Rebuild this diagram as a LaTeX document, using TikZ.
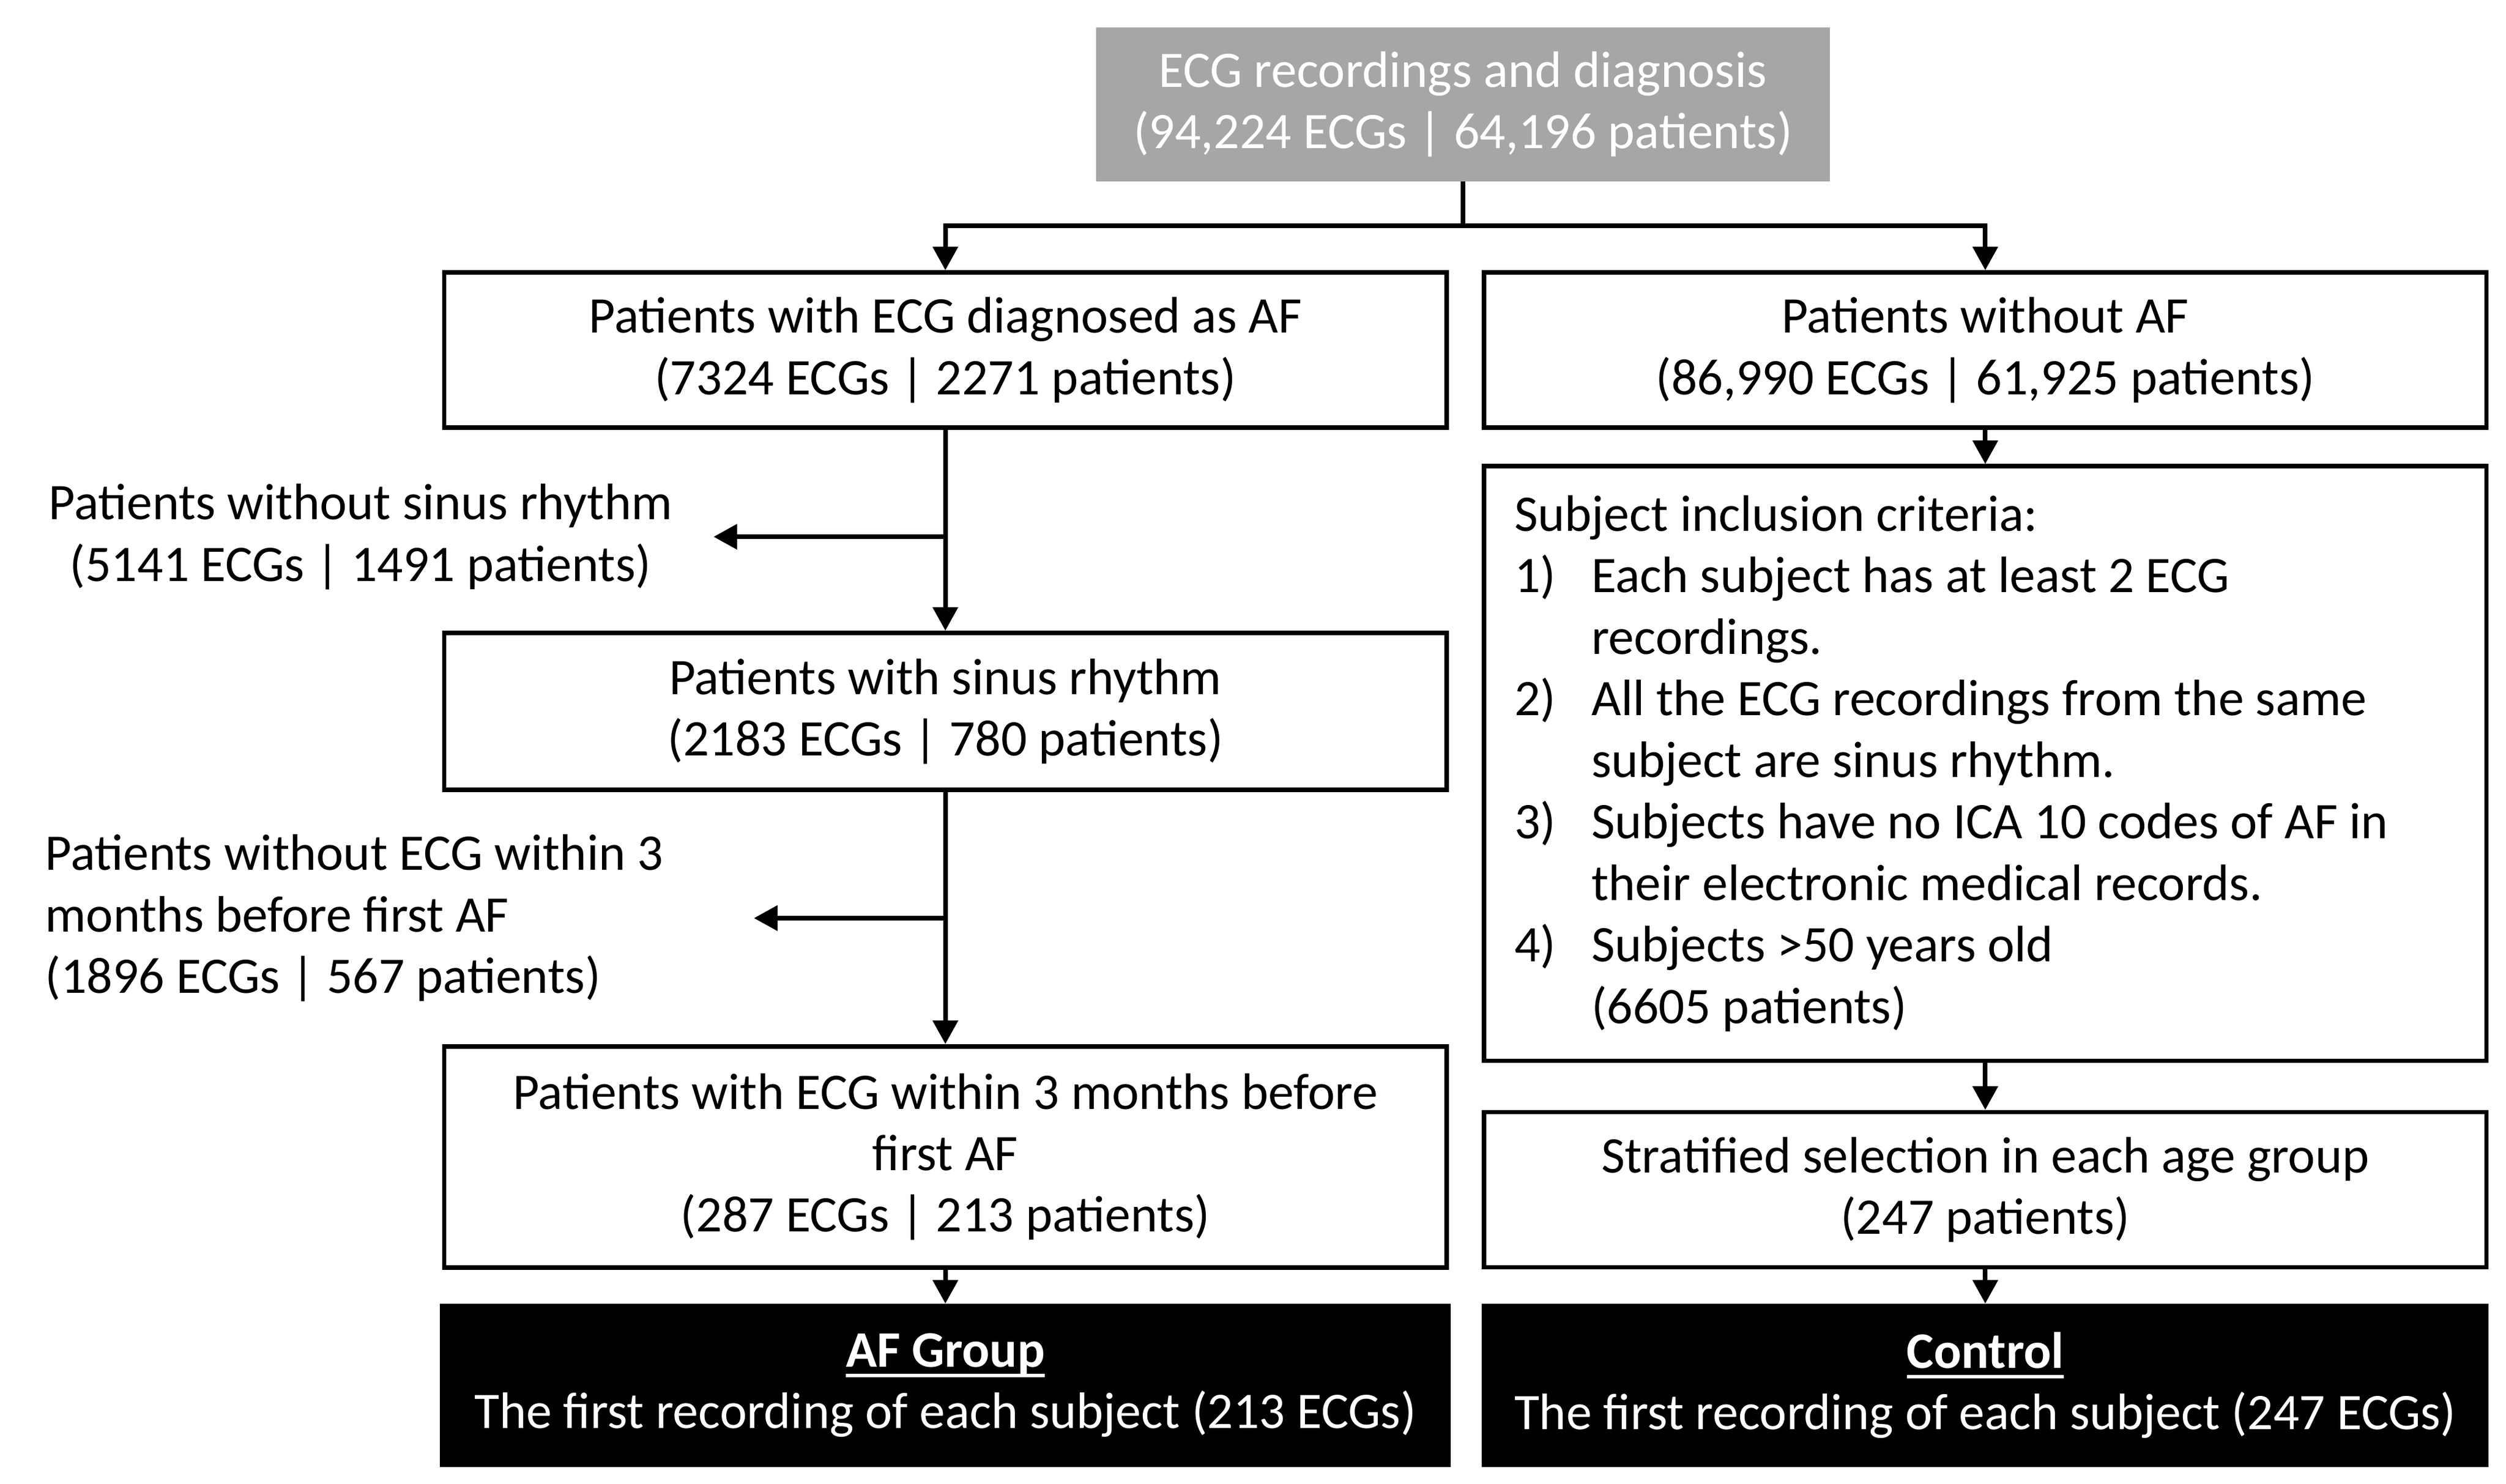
\documentclass[tikz,border=0pt]{standalone}
\usepackage{fontspec}
\setmainfont{Carlito}
\usetikzlibrary{arrows.meta}
\definecolor{topgray}{RGB}{166,166,166}
\newcommand\critem[1]{\makebox[1.32cm][l]{#1}}
\newcommand\crgap{\hspace*{1.32cm}}
\newcommand\grouptitle[1]{\setbox0\hbox{\textbf{#1}}\rlap{\rule[-5pt]{\wd0}{1.5pt}}\box0}

\begin{document}
\begin{tikzpicture}[x=0.02747cm,y=-0.02747cm,font=\fontsize{25}{30}\selectfont,
	box/.style={draw,line width=2.2pt,minimum width=17.18cm,minimum height=2.66cm,align=center,inner sep=0pt},
	arr/.style={line width=2.2pt,-{Triangle[length=11.5pt,width=12pt]}}]
			\useasboundingbox (0,0) rectangle (1564,926);

			\node (ecg) [fill=topgray,text=white,minimum width=12.58cm,minimum height=2.64cm,align=center] at (913,65) {ECG recordings and diagnosis\\(94,224 ECGs | 64,196 patients)};

			\node (afbox) [box] at (590,218.5) {Patients with ECG diagnosed as AF\\(7324 ECGs | 2271 patients)};
			\node (noaf) [box] at (1239,218.5) {Patients without AF\\(86,990 ECGs | 61,925 patients)};

			\node (sinus) [box,minimum height=2.69cm] at (590,444) {Patients with sinus rhythm\\(2183 ECGs | 780 patients)};
			\node (nosinus) [text width=12.09cm,align=flush center,inner sep=0pt] at (225,335) {Patients without sinus rhythm\\(5141 ECGs | 1491 patients)};

			\node (months) [box,minimum height=3.79cm] at (590,722) {Patients with ECG within 3 months before\\first AF\\(287 ECGs | 213 patients)};
			\node (nomonths) [anchor=west,text width=12.14cm,align=flush left,inner sep=0pt] at (28,573) {Patients without ECG within 3\\months before first AF\\(1896 ECGs | 567 patients)};

			\node (afgroup) [box,fill=black,text=white,minimum width=17.25cm,minimum height=2.72cm] at (590,864.5) {\grouptitle{AF Group}\\The first recording of each subject (213 ECGs)};

			\node (criteria) [draw,line width=2.2pt,minimum height=10.19cm,text width=16.14cm,inner xsep=0.52cm,inner ysep=0pt,align=flush left] at (1239,476.5) {Subject inclusion criteria:\\
				\critem{1)}Each subject has at least 2 ECG\\
				\crgap recordings.\\
				\critem{2)}All the ECG recordings from the same\\
				\crgap subject are sinus rhythm.\\
				\critem{3)}Subjects have no ICA 10 codes of AF in\\
				\crgap their electronic medical records.\\
				\critem{4)}Subjects >50 years old\\
				\crgap (6605 patients)};

			\node (strat) [box] at (1239,742.5) {Stratified selection in each age group\\(247 patients)};
			\node (control) [box,fill=black,text=white,minimum height=2.72cm] at (1239,864.5) {\grouptitle{Control}\\The first recording of each subject (247 ECGs)};

			\coordinate (split) at (913,141);
			\draw [line width=2.2pt] (ecg.south) -- (split);
			\draw [arr] (split) -| (afbox.north);
			\draw [arr] (split) -| (noaf.north);

			\draw [arr] (afbox) -- (sinus);
			\draw [arr] (afbox.south |- nosinus.east) -- (nosinus.east);
			\draw [arr] (sinus) -- (months);
			\draw [arr] (sinus.south |- nomonths.east) -- (nomonths.east);
			\draw [arr] (months) -- (afgroup);

			\draw [arr] (noaf) -- (criteria);
			\draw [arr] (criteria) -- (strat);
			\draw [arr] (strat) -- (control);

		\end{tikzpicture}
\end{document}
